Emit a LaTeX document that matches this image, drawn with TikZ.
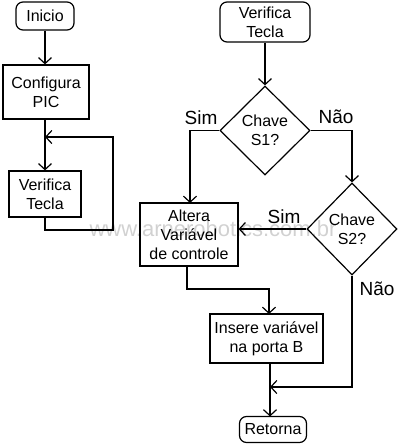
\documentclass[tikz,border=0pt]{standalone}
\usepackage{fontspec}
\setmainfont{Liberation Sans}
\usetikzlibrary{arrows.meta,shapes.geometric}
\begin{document}
\begin{tikzpicture}[x=1pt,y=-1pt,
  line width=1.2pt,
  box/.style={draw,rectangle,inner sep=0pt,align=center,font=\fontsize{16}{19}\selectfont},
  rbox/.style={box,rounded corners=7pt},
  dia/.style={draw,diamond,inner sep=0pt,align=center,font=\fontsize{16}{19}\selectfont},
  lbl/.style={font=\fontsize{19}{20}\selectfont},
  arr/.style={-{Straight Barb[length=6pt,width=13pt,line width=1.2pt]}},
]
\useasboundingbox (0,0) rectangle (400,444);
\node[text=black!18,font=\fontsize{22}{22}\selectfont] (wm) at (213,229) {www.arnerobotics.com.br};
% left column
\node[rbox,minimum width=58pt,minimum height=28pt] (ini) at (45,16) {Inicio};
\node[box,minimum width=86pt,minimum height=54pt] (cfg) at (46,92) {Configura\\PIC};
\node[box,minimum width=72pt,minimum height=46pt] (vt1) at (45,194) {Verifica\\Tecla};
\coordinate (lp) at (45,137);
\draw[arr] (ini) -- (ini.south |- cfg.north);
\draw[arr] (ini.south |- cfg.south) -- (ini.south |- vt1.north);
\draw[arr] (ini.south |- vt1.south) -- (45,230) -- (113,230) -- (113,137) -- (lp);
% right column
\node[rbox,minimum width=90pt,minimum height=40pt] (vt2) at (265,22) {Verifica\\Tecla};
\node[dia,minimum width=90pt,minimum height=89pt] (s1) at (265,130.5) {Chave\\S1?};
\node[dia,minimum width=90pt,minimum height=92pt] (s2) at (352,229) {Chave\\S2?};
\node[box,minimum width=98pt,minimum height=63pt] (alt) at (189,234.5) {Altera\\Variável\\de controle};
\node[box,minimum width=113pt,minimum height=49pt] (ins) at (266.5,338.5) {Insere variável\\na porta B};
\node[rbox,minimum width=67pt,minimum height=26pt] (ret) at (273,429.5) {Retorna};
\coordinate (jn) at (270,387);
\coordinate (a1) at (190,203);
\coordinate (a2) at (269,314);
\coordinate (a3) at (270,416.5);
\draw[arr] (vt2) -- (s1);
\draw[arr] (s1.west) -- (190,130.5) -- (a1);
\draw[arr] (s1.east) -- (352,130.5) -- (s2.north);
\draw[arr] (s2.west) -- (alt.east |- s2.west);
\draw[arr] (187,266) -- (187,289) -- (269,289) -- (a2);
\draw[arr] (s2.south) -- (352,387) -- (jn);
\draw[arr] (270,363) -- (a3);
\node[lbl] (sim1) at (201,118) {Sim};
\node[lbl] (nao1) at (336,117) {Não};
\node[lbl] (sim2) at (284,217) {Sim};
\node[lbl] (nao2) at (377,289) {Não};
\end{tikzpicture}
\end{document}
